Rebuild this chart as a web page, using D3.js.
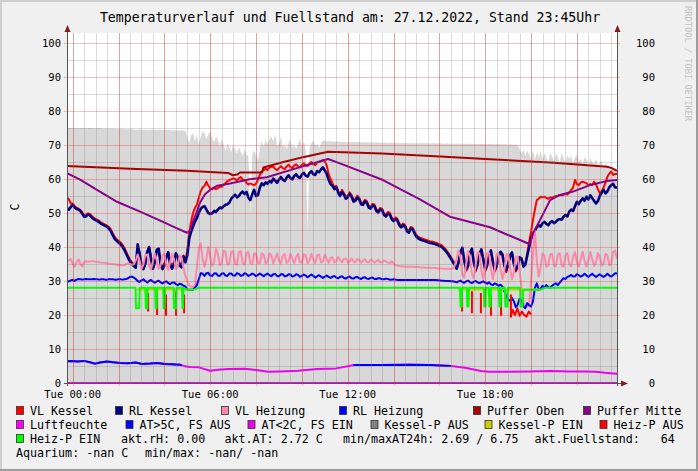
<!DOCTYPE html>
<html><head><meta charset="utf-8">
<script src="https://cdn.jsdelivr.net/npm/d3@7"></script>
<style>
body{margin:0;background:#f0f0f0}
svg{display:block}
text{font-family:"DejaVu Sans Mono",monospace;fill:#000}
</style>
</head><body>
<svg id="c" width="698" height="471"></svg>
<script>
// ---------------- DATA ----------------
// 5-minute samples starting 26.12.2022 23:45 (289 values, one row per hour)
const vlKessel = [
54.6,54.0,52.8,52.8,52.0,51.6,51.3,50.9,50.1,49.3,49.4,49.9,
49.7,49.1,48.6,48.3,48.0,47.6,47.2,46.9,46.6,46.3,45.9,45.2,
44.0,43.0,42.3,41.8,41.4,40.7,39.8,38.6,37.4,36.3,35.5,34.9,
34.5,39.5,38.5,35.2,34.0,35.5,38.5,40.0,37.0,34.2,35.8,39.0,
39.3,35.5,34.0,35.0,37.2,38.4,35.5,34.2,35.5,38.0,37.2,35.0,
34.8,37.5,36.0,39.0,44.0,47.5,50.0,51.5,52.4,54.5,56.3,57.5,
58.0,59.2,58.0,57.2,57.0,57.4,57.0,57.3,57.8,57.7,58.2,58.8,
59.4,59.7,59.9,60.2,60.0,59.6,60.2,60.6,59.8,59.7,58.8,58.4,
58.7,58.4,58.2,58.6,59.8,61.2,62.2,62.6,63.1,62.6,63.4,63.6,
63.6,63.0,62.6,63.2,63.8,63.2,62.9,63.7,64.2,63.5,63.2,64.0,
64.3,63.7,63.4,64.2,64.6,64.0,63.8,64.6,65.0,64.3,64.1,64.9,
65.0,65.2,65.6,65.2,64.0,61.5,60.0,58.8,57.6,58.0,56.5,55.5,
56.8,55.9,54.7,55.1,56.1,55.3,53.9,54.1,55.1,54.5,53.1,52.9,
53.9,53.5,52.1,51.8,52.7,52.5,51.1,50.7,51.5,51.3,49.9,49.5,
50.3,50.1,48.7,48.1,48.7,48.3,46.9,46.3,46.9,46.5,45.1,44.7,
45.9,45.7,44.5,43.5,43.0,42.7,42.5,42.3,42.1,41.9,41.7,41.6,
41.5,41.3,41.1,40.8,40.6,40.1,39.5,38.8,38.0,37.1,36.1,35.2,
33.8,35.0,38.0,39.5,36.5,33.0,34.0,37.8,39.2,36.0,32.8,34.5,
37.5,39.0,36.6,33.0,34.2,37.2,38.7,36.0,32.8,34.0,37.0,38.4,
38.0,34.8,32.6,34.4,37.0,38.2,35.4,32.8,34.0,36.6,36.8,34.6,
35.0,38.0,41.5,44.5,47.9,51.0,53.8,54.2,54.8,54.6,54.8,54.4,
54.2,54.6,54.5,54.8,55.0,55.0,55.3,55.2,55.3,55.6,55.4,56.0,
56.8,57.5,59.7,58.5,58.2,59.0,59.2,59.0,58.8,58.2,58.5,58.2,
59.2,58.4,57.0,55.8,56.4,57.5,59.0,60.7,61.6,62.2,61.2,61.5,
61.5];

const rlKessel = [
51.4,51.0,51.8,52.4,51.6,51.2,51.0,50.6,49.8,48.9,49.0,49.6,
49.3,48.7,48.2,47.9,47.6,47.2,46.8,46.5,46.2,45.9,45.4,44.6,
43.4,42.4,41.8,41.3,40.8,40.1,39.2,38.0,36.8,35.7,35.0,34.4,
33.9,40.8,38.0,34.5,33.5,35.0,38.5,40.0,36.5,33.6,35.5,39.2,
39.5,35.0,33.5,34.5,37.0,38.5,35.0,33.6,35.0,38.2,37.0,34.5,
34.0,37.2,35.5,37.5,42.5,44.5,46.0,47.5,48.5,50.0,51.2,51.8,
52.0,51.0,50.0,49.7,49.9,50.6,50.3,51.0,51.6,51.4,52.0,52.4,
52.6,53.0,54.2,54.8,55.4,54.6,55.0,55.8,56.3,55.6,56.2,54.5,
53.8,55.5,56.8,55.0,55.3,57.5,58.7,58.2,59.0,58.6,59.4,59.0,
60.1,59.5,58.9,59.8,60.6,59.8,59.4,60.4,61.1,60.3,59.9,60.9,
61.4,60.6,60.3,61.3,61.8,61.0,60.7,61.8,62.3,61.4,61.2,62.3,
62.0,62.8,63.4,62.5,61.5,59.8,58.5,58.0,57.0,57.6,56.0,55.0,
56.2,55.4,54.2,54.6,55.6,54.8,53.4,53.6,54.6,54.0,52.6,52.4,
53.4,53.0,51.6,51.3,52.2,52.0,50.6,50.2,51.0,50.8,49.4,49.0,
49.8,49.6,48.2,47.6,48.2,47.8,46.4,45.8,46.4,46.0,44.6,44.2,
45.4,45.2,44.0,43.0,42.5,42.2,42.0,41.8,41.6,41.4,41.2,41.1,
41.0,40.8,40.6,40.3,40.1,39.6,39.0,38.3,37.5,36.6,35.6,34.8,
33.6,35.5,38.5,39.8,36.0,33.5,34.5,38.2,39.5,35.5,33.4,35.0,
38.0,39.3,36.2,33.4,34.8,37.6,39.0,35.6,33.3,34.6,37.4,38.6,
37.8,34.5,33.2,35.0,37.5,38.4,35.0,33.3,34.5,37.0,36.5,34.2,
34.8,37.5,40.0,42.5,44.0,44.8,45.8,46.4,46.0,47.0,47.4,46.8,
46.4,47.2,47.6,47.0,47.4,48.0,48.2,48.0,48.9,49.4,49.0,50.4,
51.0,50.6,52.0,53.3,52.6,53.6,54.3,53.6,54.8,54.0,55.2,54.4,
53.6,52.8,53.5,55.0,56.0,56.8,55.8,56.4,57.6,58.2,58.6,57.5,
57.5];

const vlHeizung = [
36.2,36.0,36.5,35.0,34.2,35.5,36.4,35.0,34.3,35.6,35.8,35.7,
35.7,35.8,35.8,35.7,35.6,35.5,35.4,35.4,35.3,35.2,35.1,35.0,
35.0,34.9,34.8,34.8,34.7,34.6,34.7,35.0,35.2,35.0,34.8,34.9,
36.0,37.8,36.0,33.6,34.8,37.6,37.8,34.5,33.4,35.8,38.0,36.0,
33.5,34.6,37.5,38.0,34.8,33.2,35.5,38.0,36.5,33.5,34.4,37.5,
37.0,33.8,31.5,29.8,28.6,28.3,28.3,28.6,34.0,39.5,41.1,36.5,
34.2,36.5,40.0,37.0,34.5,35.5,39.5,38.0,34.6,35.2,39.0,38.5,
34.8,35.0,38.6,38.8,35.0,34.8,38.5,38.8,35.2,34.8,38.3,38.5,
35.2,35.0,38.1,38.0,35.2,35.3,38.1,37.8,35.2,35.5,38.1,37.5,
35.2,36.5,38.1,36.0,35.2,37.5,37.9,35.3,35.8,38.0,36.5,35.2,
37.2,38.0,35.5,35.4,37.8,37.5,35.2,36.2,38.0,36.2,35.3,37.5,
37.8,35.5,35.8,37.8,36.4,35.4,36.8,37.0,35.5,35.8,37.0,36.2,
35.5,36.5,36.6,35.4,35.8,36.6,35.8,35.5,36.5,36.2,35.4,36.0,
36.4,35.6,35.5,36.3,36.0,35.4,35.8,36.2,35.5,35.5,36.0,35.8,
35.4,35.3,35.8,35.2,34.6,34.5,34.4,34.3,34.3,34.2,34.2,34.2,
34.2,34.2,34.1,34.1,34.1,34.0,34.0,34.0,33.9,33.9,33.9,33.8,
33.8,33.8,33.7,33.7,33.7,33.6,33.6,33.6,33.6,33.5,33.6,34.5,
36.5,39.0,37.0,32.0,31.0,35.0,38.8,37.5,32.2,30.8,34.5,38.5,
38.0,33.0,30.6,33.8,38.2,38.2,33.5,30.5,33.5,38.0,38.0,33.5,
30.6,33.0,37.8,38.0,34.0,30.5,32.5,37.0,37.2,33.0,28.0,24.0,
22.4,22.6,23.5,30.0,38.0,45.0,36.0,31.3,34.0,38.0,37.5,34.2,
34.5,37.8,38.0,34.5,34.3,37.8,38.2,34.6,34.2,37.5,38.2,35.0,
34.3,37.0,38.5,35.5,34.2,36.5,38.6,36.0,34.3,36.0,38.5,36.5,
34.4,35.5,38.2,37.0,34.5,35.2,38.0,37.5,34.6,35.0,38.5,39.0,
36.5];

const rlHeizung = [
29.8,29.9,30.2,30.3,30.0,30.4,30.6,30.5,30.4,30.5,30.6,30.5,
30.5,30.5,30.6,30.5,30.5,30.4,30.5,30.5,30.4,30.4,30.5,30.5,
30.5,30.4,30.4,30.5,30.5,30.4,30.5,30.6,30.8,31.2,31.3,31.0,
30.6,30.0,29.7,30.2,30.5,30.0,29.6,30.0,30.3,29.8,29.5,29.9,
30.1,29.6,29.3,29.7,29.9,29.4,29.1,29.5,29.6,29.1,28.8,29.2,
29.0,28.6,28.4,27.6,27.4,27.4,27.5,28.0,28.8,30.5,32.3,32.2,
31.5,32.3,32.4,31.6,31.5,32.2,32.3,31.6,31.5,32.2,32.3,31.6,
31.5,32.2,32.2,31.6,31.6,32.3,32.1,31.5,31.7,32.3,32.0,31.5,
31.8,32.2,31.9,31.4,31.8,32.2,31.8,31.4,31.9,32.2,31.7,31.4,
32.0,32.1,31.5,31.4,32.0,32.0,31.4,31.5,32.0,31.9,31.3,31.5,
32.0,31.8,31.2,31.5,31.9,31.6,31.1,31.5,31.9,31.5,31.0,31.4,
31.7,31.3,30.9,31.3,31.6,31.2,30.9,31.3,31.5,31.0,30.8,31.2,
31.4,30.9,30.7,31.1,31.3,30.8,30.7,31.1,31.2,30.8,30.6,31.0,
31.1,30.7,30.6,30.9,31.0,30.6,30.6,30.8,30.8,30.5,30.5,30.7,
30.6,30.4,30.4,30.5,30.4,30.3,30.3,30.3,30.3,30.3,30.3,30.3,
30.3,30.3,30.3,30.3,30.3,30.3,30.3,30.3,30.3,30.3,30.3,30.3,
30.3,30.3,30.2,30.2,30.1,30.1,30.0,30.0,30.0,29.9,29.9,29.8,
29.6,29.9,30.1,29.7,29.5,29.9,30.1,29.7,29.4,29.8,30.0,29.6,
29.4,29.7,29.9,29.5,29.2,29.6,29.0,28.8,29.3,29.0,28.6,28.9,
28.4,27.0,25.5,24.5,24.2,25.0,24.0,22.3,23.0,24.8,24.2,22.5,
22.0,23.5,22.8,22.5,24.0,28.0,29.3,27.4,27.8,28.6,28.0,28.8,
28.2,28.0,28.6,29.0,29.3,28.8,29.5,30.2,30.8,30.6,31.2,31.4,
31.8,31.3,31.4,32.0,31.7,31.3,31.6,32.1,31.6,31.2,31.7,32.1,
31.6,31.2,31.6,32.0,31.5,31.2,31.6,32.1,31.6,31.3,31.8,32.3,
32.2];

const fuellstand = [
75.0,75.0,75.1,75.0,75.0,75.0,74.9,75.0,75.0,75.0,74.9,75.0,
75.0,75.0,74.9,74.9,74.9,74.9,74.9,74.8,74.8,74.8,74.8,74.8,
74.8,74.7,74.7,74.7,74.7,74.7,74.6,74.6,74.6,74.6,74.6,74.6,
74.5,74.5,74.6,74.5,74.5,74.5,74.5,74.4,74.5,74.5,74.5,74.4,
74.5,74.5,74.4,74.4,74.4,74.4,74.4,74.3,74.3,74.3,74.3,74.3,
74.3,74.3,74.2,72.5,70.5,72.8,73.5,71.0,73.2,70.2,72.5,74.0,
73.6,71.8,73.0,74.2,72.0,70.8,72.6,71.5,69.8,71.8,70.2,68.4,
70.5,69.2,68.0,70.2,68.6,67.5,69.5,68.0,66.8,68.8,67.2,66.6,
50.6,67.0,68.5,66.8,65.4,68.8,71.2,69.5,71.6,70.2,71.8,72.5,
71.0,73.2,69.8,70.6,72.4,69.5,70.0,68.8,70.5,71.6,69.2,70.0,
68.8,70.4,71.8,69.6,71.0,68.5,45.0,69.0,70.6,71.5,69.8,70.2,
69.2,70.5,71.4,71.2,71.0,71.2,71.0,71.1,70.9,71.0,71.0,70.9,
70.9,71.0,70.8,70.9,70.9,70.8,70.9,70.8,70.8,70.9,70.8,70.8,
70.8,70.7,70.8,70.7,70.8,70.7,70.7,70.7,70.6,70.7,70.7,70.6,
70.6,70.6,70.7,70.6,70.6,70.6,70.5,70.6,70.6,70.5,70.6,70.5,
70.5,70.6,70.5,70.5,70.5,70.5,70.6,70.5,70.5,70.5,70.4,70.5,
70.5,70.5,70.4,70.5,70.5,70.4,70.4,70.5,70.4,70.4,70.4,70.4,
70.4,70.4,70.4,70.3,70.4,70.4,70.3,70.4,70.3,70.3,70.4,70.3,
70.3,70.3,70.3,70.3,70.2,70.3,70.3,70.2,70.2,70.3,70.2,70.2,
70.2,70.2,70.2,70.1,70.2,70.1,70.1,70.1,70.1,68.8,67.5,68.6,
66.8,68.4,67.2,66.0,68.6,65.5,67.8,66.4,68.2,65.8,67.5,66.2,
64.8,67.6,66.8,65.2,67.4,66.6,64.6,67.8,66.0,65.0,67.0,65.8,
66.8,64.6,66.2,67.2,65.0,66.0,64.2,66.5,65.6,63.8,66.2,65.0,
64.5,66.0,63.6,64.8,65.4,63.2,64.6,63.5,62.8,63.8,63.0,62.6,
62.6];

// sparse series: [hour of 27.12.2022, value]
const pufferOben = [[-0.25,63.8],[2.5,63.0],[5.0,62.4],[6.78,61.8],[6.99,61.1],[7.17,61.3],[7.30,61.9],
 [8.26,61.9],[8.32,63.4],[9.2,65.0],[10.1,66.5],[11.14,68.0],[13.5,67.5],[16.03,66.6],[18.21,65.8],
 [21.0,64.8],[23.32,63.6],[23.53,63.2],[23.75,62.4]];
const pufferMitte = [[-0.25,61.7],[0.32,59.8],[1.06,56.8],[1.93,53.3],[2.94,50.4],[3.94,47.4],[4.55,45.5],
 [4.99,44.2],[5.12,44.8],[5.25,47.5],[5.42,50.5],[5.55,53.0],[5.77,55.5],[5.99,56.8],[6.30,58.0],
 [6.86,58.7],[7.73,59.9],[8.47,60.5],[9.92,63.5],[11.14,65.9],[11.66,64.6],[13.54,59.7],[15.15,54.0],
 [16.46,48.9],[18.21,45.8],[19.95,40.8],[20.08,44.0],[20.39,47.9],[20.83,53.8],[21.26,55.3],
 [21.83,56.3],[22.57,58.2],[23.31,59.4],[23.75,59.7]];
const aussenTemp = [[-0.25,6.4],[-0.03,6.5],[0.23,6.3],[0.49,6.5],[0.75,6.1],[0.97,5.7],[1.19,6.0],
 [1.5,6.3],[1.76,6.1],[2.06,5.9],[2.41,5.8],[2.76,6.0],[3.02,5.6],[3.37,5.7],[3.68,5.9],[4.03,5.6],
 [4.33,5.5],[4.68,5.4],[4.9,4.9],[5.12,4.7],[5.51,4.6],[5.99,3.6],[6.34,3.9],[6.82,4.1],[7.52,4.2],
 [8.17,3.7],[8.52,3.3],[9.04,3.4],[9.83,3.6],[10.66,4.1],[11.49,4.3],[12.01,4.9],[12.27,5.3],
 [13.4,5.3],[14.71,5.4],[15.58,5.3],[16.5,5.0],[17.12,4.5],[17.81,3.5],[18.16,3.3],[19.08,3.3],
 [19.95,3.4],[20.83,3.5],[21.7,3.4],[22.35,3.4],[22.83,3.3],[23.22,3.0],[23.75,2.7]];
// hours where frost protection was off (AT>5C, FS AUS)
const fsAusRanges = [[-0.25,4.75],[12.25,16.5]];
const luftfeuchte = [[-0.25,0],[23.75,0]];
const kesselPEin = [[2.8,27.5],[5.1,27.5],null,[16.8,27.5],[20.4,27.5]];
const heizPEin = [[-0.25,28],[2.74,28],[2.76,22],[2.9,22],[2.92,28],[3.17,28],[3.19,22],[3.25,22],[3.27,28],
 [3.6,28],[3.62,22],[3.66,22],[3.68,28],[3.95,28],[3.97,22],[4.01,22],[4.03,28],[4.4,28],[4.42,22],
 [4.51,22],[4.53,28],[4.77,28],[4.79,22],[4.81,22],[4.83,28],[4.99,27.4],[5.25,27.4],[5.5,28],
 [16.9,28],[16.92,22.5],[16.97,22.5],[16.99,28],[17.2,28],[17.22,22.5],[17.27,22.5],[17.29,28],
 [17.94,28],[17.96,22.5],[18.01,22.5],[18.03,28],[18.16,28],[18.18,22.5],[18.23,22.5],[18.25,28],
 [18.6,28],[18.62,22.5],[18.67,22.5],[18.69,28],[18.86,28],[18.88,22.5],[18.97,22.5],[18.99,28],
 [19.52,28],[19.54,22.5],[19.63,22.5],[19.65,27.4],[20.39,27.4],[20.6,28],[23.75,28]];
const heizPAus = [[3.29,26.5],[3.29,21.0],null,[3.68,27],[3.68,20.0],null,[4.07,26],[4.07,19.8],null,
 [4.51,27],[4.51,19.8],null,[4.86,26],[4.86,20.5],null,
 [16.99,27],[16.99,21.0],null,[17.42,27],[17.42,20.5],null,[17.81,26.5],[17.81,20.5],null,
 [18.25,26],[18.25,19.8],null,[18.69,26],[18.69,19.8],null,
 [19.12,26],[19.12,19.5],[19.2,21.5],[19.3,20.0],[19.4,22.0],[19.5,19.8],[19.6,21.0],[19.7,20.0],
 [19.8,19.5],[19.9,21.0],[20.0,20.2]];

const yTicks = [0,10,20,30,40,50,60,70,80,90,100];
const titleText = "Temperaturverlauf und Fuellstand am: 27.12.2022, Stand 23:45Uhr";
const legendRows = [
 [["VL Kessel","#ff0000"],["RL Kessel","#000080"],["VL Heizung","#ff88aa"],["RL Heizung","#0000ff"],["Puffer Oben","#aa0000"],["Puffer Mitte","#880088"]],
 [["Luftfeuchte","#ff00ff"],["AT>5C, FS AUS","#0000ff"],["AT<2C, FS EIN","#ee00ee"],["Kessel-P AUS","#808080"],["Kessel-P EIN","#cccc00"],["Heiz-P AUS","#ff0000"]],
 [["Heiz-P EIN","#00ff00"]]
];
const infoTexts = [["akt.rH: 0.00",2],["akt.AT: 2.72 C",2],["min/maxAT24h: 2.69 / 6.75",2],["akt.Fuellstand:   64",2],
 ["Aquarium: -nan C",3],["min/max: -nan/ -nan",3]];

// ---------------- LAYOUT ----------------
const L = 67, R = 617, B = 383, Y100 = 43, TOP = 33;
const legendBoxX = [[16,115,221,339,473,583],[16,125.5,247.5,370.5,484.5,599.5],[16]];
const infoX = [121,224.5,343,534.5,16,145];
const rowY = [411,425,439,453];

const svg = d3.select("#c");
const day = new Date(2022,11,27,0,0).getTime();
const hd = h => new Date(day + h*3600000);
const t0 = hd(-0.25);
const ti = i => new Date(t0.getTime() + i*300000);

const x = d3.scaleTime().domain([hd(-0.25), hd(23.75)]).range([L, R]);
const y = d3.scaleLinear().domain([0,100]).range([B, Y100]);

// background and frame
svg.append("rect").attr("width",698).attr("height",471).attr("fill","#f0f0f0");
svg.append("rect").attr("x",0).attr("y",0).attr("width",698).attr("height",2).attr("fill","#cfcfcf");
svg.append("rect").attr("x",0).attr("y",0).attr("width",2).attr("height",471).attr("fill","#cfcfcf");
svg.append("rect").attr("x",0).attr("y",469).attr("width",698).attr("height",2).attr("fill","#9e9e9e");
svg.append("rect").attr("x",696).attr("y",0).attr("width",2).attr("height",471).attr("fill","#9e9e9e");

svg.append("defs").append("clipPath").attr("id","plot").append("rect")
  .attr("x",L).attr("y",TOP).attr("width",R-L).attr("height",B-TOP);
svg.append("rect").attr("x",L).attr("y",TOP).attr("width",R-L).attr("height",B-TOP).attr("fill","#fff");

const g = svg.append("g").attr("clip-path","url(#plot)");
const dense = arr => arr.map((v,i)=>[ti(i),v]);
const sparse = arr => arr.map(p => p ? [hd(p[0]),p[1]] : null);

// Fuellstand area
g.append("path").datum(dense(fuellstand))
  .attr("d", d3.area().x(d=>x(d[0])).y0(y(0)).y1(d=>y(d[1])))
  .attr("fill","#d8d8d8");

// grid
const grid = svg.append("g").attr("shape-rendering","crispEdges");
const minorT = d3.timeMinute.every(30).range(hd(-0.25), hd(23.76));
const majorT = d3.timeHour.every(2).range(hd(-0.25), hd(23.76));
const minorC = "rgba(110,110,110,0.25)", majorC = "rgba(255,0,0,0.26)";
minorT.forEach(t=>{ grid.append("line").attr("x1",Math.round(x(t))+0.5).attr("x2",Math.round(x(t))+0.5)
  .attr("y1",TOP).attr("y2",B).attr("stroke",minorC); });
d3.range(5,101,10).forEach(v=>{ grid.append("line").attr("x1",L).attr("x2",R)
  .attr("y1",Math.round(y(v))+0.5).attr("y2",Math.round(y(v))+0.5).attr("stroke",minorC); });
majorT.forEach(t=>{ grid.append("line").attr("x1",Math.round(x(t))+0.5).attr("x2",Math.round(x(t))+0.5)
  .attr("y1",TOP).attr("y2",B+3).attr("stroke",majorC); });
yTicks.forEach(v=>{ grid.append("line").attr("x1",L-3).attr("x2",R+3)
  .attr("y1",Math.round(y(v))+0.5).attr("y2",Math.round(y(v))+0.5).attr("stroke",majorC); });

// lines
const line = d3.line().defined(d=>d!==null).x(d=>x(d[0])).y(d=>y(d[1]));
function draw(data,color,w){
  g.append("path").datum(data).attr("d",line).attr("fill","none").attr("stroke",color)
   .attr("stroke-width",w).attr("stroke-linejoin","round");
}
draw(dense(vlKessel),"#ff0000",2);
draw(dense(rlKessel),"#000080",2.6);
draw(dense(vlHeizung),"#ff88aa",2);
draw(dense(rlHeizung),"#0000ff",2);
draw(sparse(pufferOben),"#aa0000",2);
draw(sparse(pufferMitte),"#880088",2);
draw(sparse(luftfeuchte),"#ff00ff",2);
// outside temperature: magenta, blue where FS AUS
draw(sparse(aussenTemp),"#ee00ee",2);
const defs = svg.select("defs");
fsAusRanges.forEach((r,k)=>{
  defs.append("clipPath").attr("id","fs"+k).append("rect")
    .attr("x",x(hd(r[0]))).attr("y",TOP).attr("width",x(hd(r[1]))-x(hd(r[0]))).attr("height",B-TOP);
  g.append("g").attr("clip-path",`url(#fs${k})`).append("path").datum(sparse(aussenTemp))
   .attr("d",line).attr("fill","none").attr("stroke","#0000ff").attr("stroke-width",2);
});
draw(sparse(kesselPEin),"#cccc00",2);
draw(sparse(heizPAus),"#ff0000",2);
draw(sparse(heizPEin),"#00ff00",2);

// axes
const ax = svg.append("g");
ax.append("line").attr("x1",L+0.5).attr("x2",L+0.5).attr("y1",B+3).attr("y2",29).attr("stroke","#555");
ax.append("line").attr("x1",R+0.5).attr("x2",R+0.5).attr("y1",B+3).attr("y2",29).attr("stroke","#555");
ax.append("line").attr("x1",L-3).attr("x2",R+5).attr("y1",B+0.5).attr("y2",B+0.5).attr("stroke","#555");
[[L+0.5],[R+0.5]].forEach(([xx])=>{
  ax.append("path").attr("d",`M${xx-3},32L${xx+3},32L${xx},25Z`).attr("fill","#7f1f1f");
});
ax.append("path").attr("d",`M${R+4},${B+0.5-3}L${R+4},${B+0.5+3}L${R+11},${B+0.5}Z`).attr("fill","#7f1f1f");
// redraw humidity line over the axis
g.append("path").datum(sparse(luftfeuchte)).attr("d",line).attr("fill","none").attr("stroke","#ff00ff").attr("stroke-width",2);

// tick labels
const tl = svg.append("g").style("font-size","10.5px");
yTicks.forEach(v=>{
  tl.append("text").attr("x",61).attr("y",y(v)+3.8).attr("text-anchor","end").text(v);
  tl.append("text").attr("x",655).attr("y",y(v)+3.8).attr("text-anchor","end").text(v);
});
const fmt = d3.timeFormat("%a %H:%M");
d3.timeHour.every(6).range(hd(0), hd(23.76)).forEach(t=>{
  tl.append("text").attr("x",x(t)).attr("y",397.5).attr("text-anchor","middle").text(fmt(t));
});

// title, unit, watermark
svg.append("text").attr("x",350).attr("y",21.5).attr("text-anchor","middle")
  .style("font-size","13.2px").text(titleText);
svg.append("text").attr("transform","translate(18.5,207) rotate(-90)").attr("text-anchor","middle")
  .style("font-size","11.6px").text("C");
svg.append("text").attr("transform","translate(685,6) rotate(90)").attr("text-anchor","start")
  .style("font-size","8.7px").style("fill","#c4c4c4").text("RRDTOOL / TOBI OETIKER");

// legend
const lg = svg.append("g").style("font-size","11.66px");
legendRows.forEach((row,r)=>{
  row.forEach((item,k)=>{
    const bx = legendBoxX[r][k];
    lg.append("rect").attr("x",bx+0.5).attr("y",rowY[r]-4.5).attr("width",7).attr("height",8)
      .attr("fill",item[1]).attr("stroke","#333").attr("stroke-width",0.8);
    lg.append("text").attr("x",bx+14).attr("y",rowY[r]+4).text(item[0]);
  });
});
infoTexts.forEach((it,k)=>{
  lg.append("text").attr("x",infoX[k]).attr("y",rowY[it[1]]+4).attr("xml:space","preserve")
    .style("white-space","pre").text(it[0]);
});
</script>
</body></html>
